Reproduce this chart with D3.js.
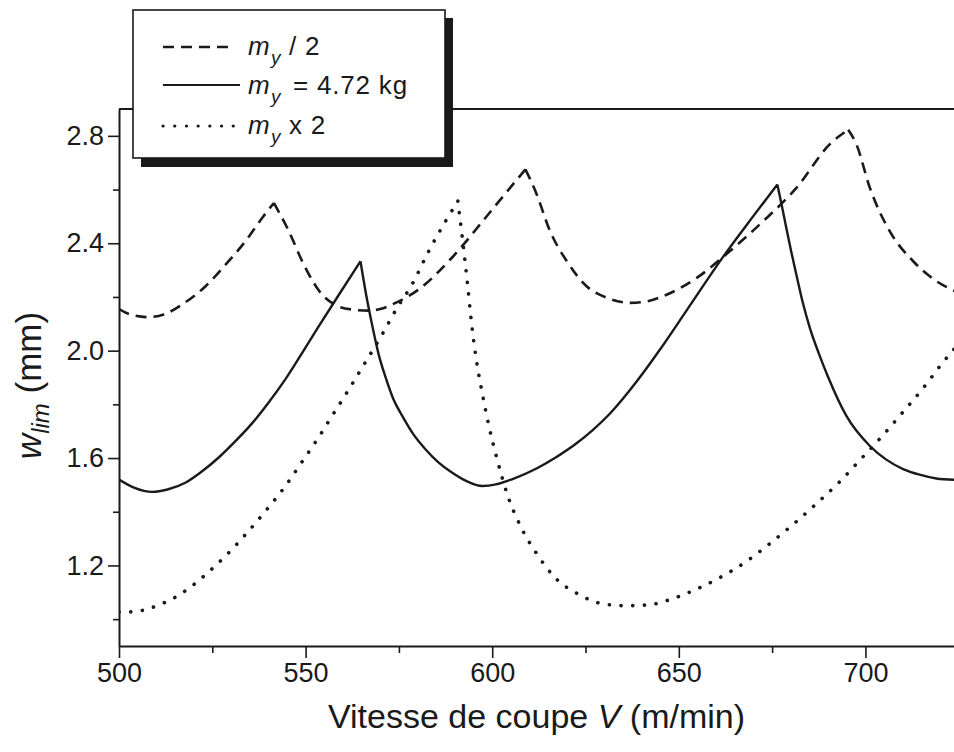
<!DOCTYPE html>
<html>
<head>
<meta charset="utf-8">
<script src="https://cdn.jsdelivr.net/npm/d3@7"></script>
<style>
  html, body { margin: 0; padding: 0; background: #fff; }
  svg { display: block; font-family: "Liberation Sans", Arial, Helvetica, sans-serif; }
</style>
</head>
<body>
<svg id="chart" width="954" height="752"></svg>
<script>
// ---------- data ----------
const xMajorTicks = [500, 550, 600, 650, 700];
const xMinorTicks = [525, 575, 625, 675];
const yMajorTicks = [1.2, 1.6, 2.0, 2.4, 2.8];
const yMinorTicks = [1.0, 1.4, 1.8, 2.2, 2.6];

// m_y / 2 (dashed)
const halfV = [500, 503, 507.6, 512, 516.9, 523.2, 528.6, 533.9, 538.4, 541.5, 545.5, 549.5, 554.4, 558, 562.5, 566.9, 570, 574.1, 580.3, 589.2, 598.2, 604, 608.9, 611.7, 615.5, 620, 625.3, 630.7, 636.9, 641, 645.8, 654.8, 663.7, 672.6, 681.5, 690.4, 695.4, 697.6, 701.2, 706.5, 712.8, 719.0, 724];
const halfW = [2.155, 2.135, 2.125, 2.135, 2.172, 2.240, 2.321, 2.408, 2.495, 2.550, 2.445, 2.321, 2.209, 2.170, 2.153, 2.149, 2.155, 2.178, 2.228, 2.346, 2.495, 2.593, 2.675, 2.590, 2.445, 2.333, 2.240, 2.197, 2.178, 2.182, 2.203, 2.271, 2.371, 2.482, 2.606, 2.768, 2.823, 2.768, 2.606, 2.445, 2.333, 2.259, 2.222];

// m_y = 4.72 kg (solid)
const nomV = [500, 504, 508.9, 513, 517.9, 522, 526.8, 531, 535.7, 540, 544.6, 549, 553.5, 559, 564.7, 566.2, 567.8, 569.5, 571.4, 573.5, 575.9, 578.8, 582.1, 585.5, 589.2, 593, 597.3, 601, 605.3, 612, 617, 622.6, 627, 631.5, 638.7, 645, 652.1, 661.9, 669.9, 676.4, 677.6, 678.8, 680.1, 681.5, 683.2, 685.1, 687.5, 690, 694.9, 701.2, 705.5, 710.1, 714.5, 719, 724];
const nomW = [1.52, 1.49, 1.474, 1.483, 1.509, 1.548, 1.603, 1.660, 1.730, 1.805, 1.894, 1.990, 2.090, 2.210, 2.333, 2.21, 2.097, 1.99, 1.902, 1.82, 1.757, 1.69, 1.633, 1.585, 1.546, 1.515, 1.496, 1.502, 1.521, 1.562, 1.602, 1.655, 1.705, 1.765, 1.885, 2.005, 2.150, 2.350, 2.500, 2.619, 2.54, 2.457, 2.37, 2.283, 2.18, 2.085, 1.99, 1.902, 1.757, 1.645, 1.595, 1.559, 1.538, 1.524, 1.519];

// m_y x 2 (dotted)
const dblV = [500, 503.1, 506.4, 509.6, 512.9, 516.1, 519.2, 522.3, 525.5, 528.6, 534.4, 539.7, 544.6, 548.9, 553.3, 557.1, 561.2, 565.1, 570.5, 574.5, 578.5, 583.0, 587.5, 590.8, 591.9, 593.3, 594.6, 596.4, 597.3, 599.1, 601.3, 604.0, 608.0, 612.0, 616.8, 623.1, 629.3, 636.0, 642.3, 648.5, 654.8, 661.0, 667.7, 673.9, 680.2, 686.7, 692.9, 698.9, 704.7, 710.1, 715.4, 720.3, 724];
const dblW = [1.027, 1.027, 1.033, 1.047, 1.066, 1.090, 1.12, 1.155, 1.195, 1.236, 1.323, 1.410, 1.496, 1.583, 1.673, 1.757, 1.847, 1.936, 2.060, 2.159, 2.246, 2.371, 2.482, 2.557, 2.432, 2.259, 2.085, 1.911, 1.844, 1.720, 1.596, 1.466, 1.335, 1.242, 1.155, 1.093, 1.058, 1.050, 1.054, 1.077, 1.112, 1.155, 1.211, 1.276, 1.348, 1.428, 1.509, 1.598, 1.685, 1.772, 1.859, 1.948, 2.01];

// ---------- layout ----------
const svg = d3.select("#chart");
const x = d3.scaleLinear().domain([500, 724]).range([119, 955]);
const y = d3.scaleLinear().domain([0.9, 2.9]).range([646, 109]);

const ink = "#1a1a1a";

svg.append("defs").append("clipPath").attr("id", "plotclip")
  .append("rect").attr("x", x(500)).attr("y", y(2.9)).attr("width", x(724) - x(500)).attr("height", y(0.9) - y(2.9));

const series = [
  { v: halfV, w: halfW, dash: "11,7", cap: "butt", width: 2.6 },
  { v: nomV, w: nomW, dash: null, cap: "butt", width: 2.4 },
  { v: dblV, w: dblW, dash: "0.1,11.6", cap: "round", width: 3.6 }
];

// split each series at its cusps (local maxima) so the peaks stay sharp
function cuspPath(pts) {
  const line = d3.line().x(d => x(d[0])).y(d => y(d[1])).curve(d3.curveMonotoneX);
  const cuts = [0];
  for (let i = 1; i < pts.length - 1; i++) {
    if (pts[i][1] > pts[i - 1][1] && pts[i][1] > pts[i + 1][1]) cuts.push(i);
  }
  cuts.push(pts.length - 1);
  let d = "";
  for (let k = 0; k < cuts.length - 1; k++) {
    d += line(pts.slice(cuts[k], cuts[k + 1] + 1));
  }
  return d;
}

const g = svg.append("g").attr("clip-path", "url(#plotclip)");
series.forEach(s => {
  const pts = s.v.map((v, i) => [v, s.w[i]]);
  g.append("path")
    .attr("d", cuspPath(pts))
    .attr("fill", "none")
    .attr("stroke", ink)
    .attr("stroke-width", s.width)
    .attr("stroke-linecap", s.cap)
    .attr("stroke-linejoin", "miter")
    .attr("stroke-dasharray", s.dash);
});

// top frame line
svg.append("line")
  .attr("x1", x(500)).attr("x2", 954)
  .attr("y1", y(2.9)).attr("y2", y(2.9))
  .attr("stroke", ink).attr("stroke-width", 2);

// axes
function styleAxis(sel) {
  sel.select(".domain").attr("stroke", ink).attr("stroke-width", 2);
  sel.selectAll(".tick line").attr("stroke", ink).attr("stroke-width", 1.6);
  sel.selectAll(".tick text").attr("fill", ink).style("font-size", "27px");
}
const xAxis = svg.append("g").attr("transform", `translate(0,${y(0.9)})`)
  .call(d3.axisBottom(x).tickValues(xMajorTicks).tickSize(12).tickSizeOuter(0).tickPadding(5).tickFormat(d3.format("d")));
styleAxis(xAxis);
const xMinor = svg.append("g").attr("transform", `translate(0,${y(0.9)})`)
  .call(d3.axisBottom(x).tickValues(xMinorTicks).tickSize(7).tickSizeOuter(0).tickFormat(""));
xMinor.select(".domain").remove();
xMinor.selectAll(".tick line").attr("stroke", ink).attr("stroke-width", 1.6);

const yAxis = svg.append("g").attr("transform", `translate(${x(500)},0)`)
  .call(d3.axisLeft(y).tickValues(yMajorTicks).tickSize(11).tickSizeOuter(0).tickPadding(4).tickFormat(d3.format(".1f")));
styleAxis(yAxis);
const yMinor = svg.append("g").attr("transform", `translate(${x(500)},0)`)
  .call(d3.axisLeft(y).tickValues(yMinorTicks).tickSize(6).tickSizeOuter(0).tickFormat(""));
yMinor.select(".domain").remove();
yMinor.selectAll(".tick line").attr("stroke", ink).attr("stroke-width", 1.6);

// axis titles
const xt = svg.append("text")
  .attr("x", (x(500) + 954) / 2).attr("y", 728)
  .attr("text-anchor", "middle").attr("fill", ink)
  .style("font-size", "34px");
xt.append("tspan").text("Vitesse de coupe ");
xt.append("tspan").attr("font-style", "italic").text("V");
xt.append("tspan").text(" (m/min)");

const yt = svg.append("text")
  .attr("transform", `translate(41,${(y(2.9) + y(0.9)) / 2 + 8}) rotate(-90)`)
  .attr("text-anchor", "middle").attr("fill", ink)
  .style("font-size", "35px");
yt.append("tspan").attr("font-style", "italic").text("w");
yt.append("tspan").attr("font-style", "italic").style("font-size", "24px").attr("dy", 8).text("lim");
yt.append("tspan").attr("dy", -8).text(" (mm)");

// legend
const lg = svg.append("g");
lg.append("rect").attr("x", 141).attr("y", 18).attr("width", 312).attr("height", 149).attr("fill", ink);
lg.append("rect").attr("x", 133).attr("y", 10).attr("width", 312).attr("height", 148)
  .attr("fill", "#fff").attr("stroke", ink).attr("stroke-width", 1.6);

const legendRows = [
  { y: 47, ty: 55, dash: series[0].dash, cap: "butt", width: 2.4, x2: 234, rest: "/ 2", rx: 289 },
  { y: 85, ty: 94, dash: null, cap: "butt", width: 2.2, x2: 240, rest: "= 4.72 kg", rx: 293 },
  { y: 126, ty: 134, dash: series[2].dash, cap: "round", width: 3.2, x2: 238, rest: "x 2", rx: 289 }
];
legendRows.forEach(r => {
  lg.append("line").attr("x1", 163).attr("x2", r.x2).attr("y1", r.y).attr("y2", r.y)
    .attr("stroke", ink).attr("stroke-width", r.width)
    .attr("stroke-linecap", r.cap).attr("stroke-dasharray", r.dash);
  const t = lg.append("text").attr("x", 248).attr("y", r.ty).attr("fill", ink).style("font-size", "26px");
  t.append("tspan").attr("font-style", "italic").text("m");
  t.append("tspan").attr("font-style", "italic").style("font-size", "19px").attr("x", 271).attr("dy", 9).text("y");
  t.append("tspan").attr("x", r.rx).attr("dy", -9).style("letter-spacing", "0.8px").text(r.rest);
});
</script>
</body>
</html>
